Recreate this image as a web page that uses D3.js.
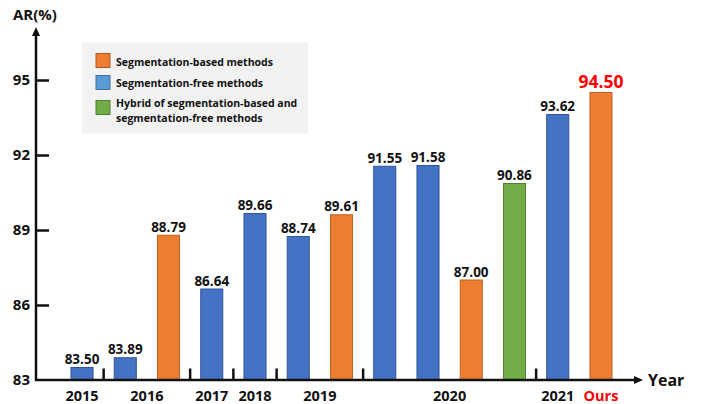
<!DOCTYPE html>
<html>
<head>
<meta charset="utf-8">
<script src="https://cdn.jsdelivr.net/npm/d3@7"></script>
<style>
  html, body { margin: 0; padding: 0; background: #fff; }
  svg { display: block; font-family: "Open Sans", "DejaVu Sans", sans-serif; font-weight: 700; }
</style>
</head>
<body>
<svg id="chart" width="702" height="404"></svg>
<script>
// ---- data ----
const barYears = ["2015","2016","2016","2017","2018","2019","2019","2020","2020","2020","2020","2021","Ours"];
const barValues = [83.50, 83.89, 88.79, 86.64, 89.66, 88.74, 89.61, 91.55, 91.58, 87.00, 90.86, 93.62, 94.50];
const barTypes = ["free","free","based","free","free","free","based","free","free","based","hybrid","free","based"];
const yearLabels = ["2015","2016","2017","2018","2019","2020","2021","Ours"];
const yTicks = [83, 86, 89, 92, 95];
const legendKeys = ["based", "free", "hybrid"];
const legendLabels = [["Segmentation-based methods"], ["Segmentation-free methods"], ["Hybrid of segmentation-based and", "segmentation-free methods"]];

// ---- styles ----
const barFill = { based: "#ED7D31", free: "#4472C4", hybrid: "#70AD47" };
const barStroke = { based: "#C0621F", free: "#2F5597", hybrid: "#548235" };
const swatchFill = { based: "#ED7D31", free: "#5B9BD5", hybrid: "#70AD47" };
const swatchStroke = { based: "#AE5A21", free: "#41719C", hybrid: "#507E32" };
const ink = "#111";

const svg = d3.select("#chart");
const axisX = 36, axisY = 380;

const x = d3.scaleBand().domain(d3.range(barValues.length)).range([49.8, 633.2]).padding(0.49);
const y = d3.scaleLinear().domain([83, 95]).range([380, 80]);
const cx = i => x(i) + x.bandwidth() / 2;

// legend
const lg = svg.append("g");
lg.append("rect").attr("x", 82).attr("y", 42.5).attr("width", 226).attr("height", 91).attr("fill", "#f2f2f2");
const swY = [53.5, 75.5, 100.5];
const txY = [[65.5], [87], [107, 121.5]];
legendKeys.forEach((k, i) => {
  lg.append("rect").attr("x", 96).attr("y", swY[i]).attr("width", 14).attr("height", 14)
    .attr("fill", swatchFill[k]).attr("stroke", swatchStroke[k]).attr("stroke-width", 1);
  legendLabels[i].forEach((t, j) => {
    lg.append("text").attr("x", 116).attr("y", txY[i][j]).attr("font-size", 10.5).attr("fill", ink).text(t);
  });
});

// bars
svg.append("g").selectAll("rect").data(barValues).join("rect")
  .attr("x", (d, i) => x(i))
  .attr("y", d => y(d))
  .attr("width", x.bandwidth())
  .attr("height", d => y(83) - y(d))
  .attr("fill", (d, i) => barFill[barTypes[i]])
  .attr("stroke", (d, i) => barStroke[barTypes[i]])
  .attr("stroke-width", 1);

// value labels
const last = barValues.length - 1;
svg.append("g").selectAll("text").data(barValues).join("text")
  .attr("x", (d, i) => cx(i))
  .attr("y", (d, i) => y(d) - (i === last ? 5 : 3.5))
  .attr("text-anchor", "middle")
  .attr("font-size", (d, i) => i === last ? 17.5 : 13.5)
  .attr("fill", (d, i) => i === last ? "#FF0000" : ink)
  .text(d => d.toFixed(2));

// y axis
const yAxis = d3.axisLeft(y).tickValues(yTicks).tickSizeInner(-13).tickSizeOuter(0).tickPadding(6);
const ya = svg.append("g").attr("transform", `translate(${axisX},0)`).call(yAxis);
ya.select(".domain").remove();
ya.selectAll(".tick line").attr("stroke", ink).attr("stroke-width", 2.5);
ya.selectAll(".tick text").attr("font-size", 15).attr("fill", ink)
  .attr("font-family", "Open Sans").attr("font-weight", 700);
ya.selectAll(".tick").filter(d => d === 83).select("line").remove();

// axis lines with arrows
svg.append("line").attr("x1", axisX).attr("y1", axisY + 1).attr("x2", axisX).attr("y2", 34)
  .attr("stroke", ink).attr("stroke-width", 2.5);
svg.append("path").attr("d", `M${axisX},27 L${axisX - 4},36 L${axisX + 4},36 Z`).attr("fill", ink);
svg.append("line").attr("x1", axisX - 1).attr("y1", axisY).attr("x2", 636).attr("y2", axisY)
  .attr("stroke", ink).attr("stroke-width", 2.5);
svg.append("path").attr("d", `M643,${axisY} L634,${axisY - 4} L634,${axisY + 4} Z`).attr("fill", ink);

// axis titles
svg.append("text").attr("x", 13).attr("y", 20).attr("font-size", 15).attr("fill", ink).text("AR(%)");
svg.append("text").attr("x", 648).attr("y", 385.5).attr("font-size", 16).attr("fill", ink).text("Year");

// year group labels and separators
yearLabels.forEach(yl => {
  const idx = d3.range(barYears.length).filter(i => barYears[i] === yl);
  const mx = d3.mean(idx, cx);
  svg.append("text").attr("x", mx).attr("y", 400.5).attr("text-anchor", "middle")
    .attr("font-size", 14.5).attr("fill", yl === "Ours" ? "#FF0000" : ink).text(yl);
});
for (let i = 0; i < barYears.length - 1; i++) {
  if (barYears[i] !== barYears[i + 1] && barYears[i + 1] !== "Ours") {
    const sx = (cx(i) + cx(i + 1)) / 2;
    svg.append("line").attr("x1", sx).attr("x2", sx).attr("y1", 368.5).attr("y2", axisY)
      .attr("stroke", ink).attr("stroke-width", 2.5);
  }
}
</script>
</body>
</html>
